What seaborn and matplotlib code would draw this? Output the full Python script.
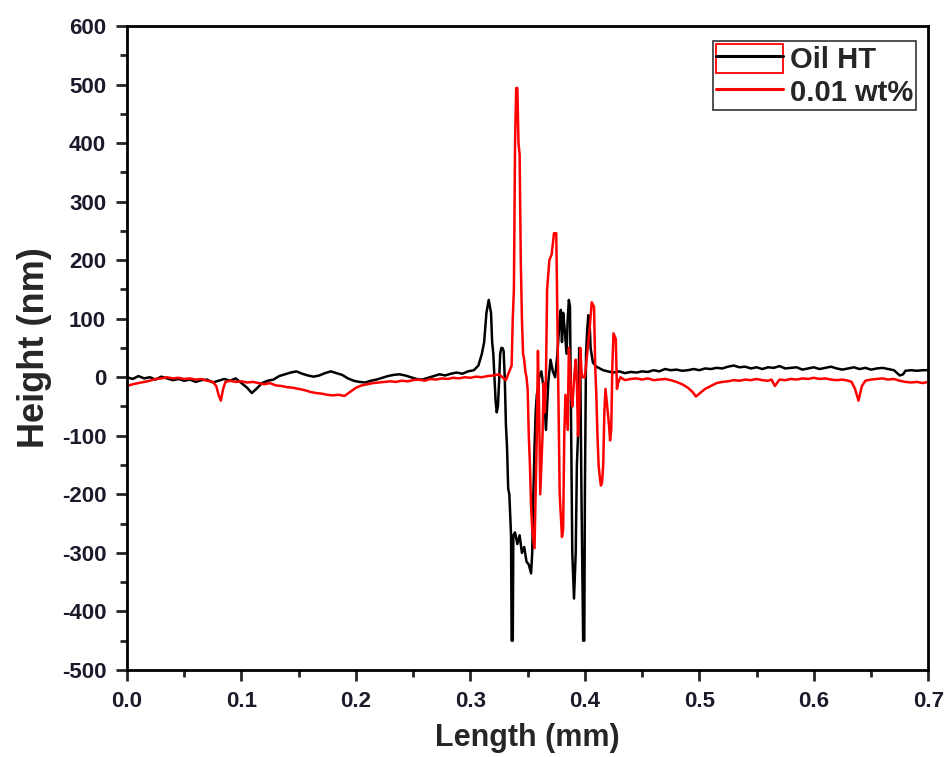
import matplotlib
matplotlib.use("Agg")
import matplotlib.pyplot as plt
import seaborn as sns
import pandas as pd
from matplotlib.ticker import MultipleLocator
from matplotlib.patches import Rectangle
from matplotlib.legend_handler import HandlerTuple

# ---- data ----
oil_x = [0.000, 0.005, 0.010, 0.015, 0.020, 0.025, 0.030, 0.035, 0.040, 0.045, 0.050, 0.055, 0.060, 0.065, 0.070,
         0.075, 0.080, 0.085, 0.090, 0.095, 0.100, 0.105, 0.109, 0.113, 0.118, 0.123, 0.128, 0.133, 0.138, 0.143,
         0.148, 0.153, 0.158, 0.163, 0.168, 0.173, 0.178, 0.183, 0.188, 0.193, 0.198, 0.203, 0.208, 0.213, 0.218,
         0.223, 0.228, 0.233, 0.238, 0.243, 0.248, 0.253, 0.258, 0.263, 0.268, 0.273, 0.278, 0.283, 0.288, 0.293,
         0.298, 0.303, 0.307, 0.310, 0.312, 0.314, 0.316, 0.318, 0.319, 0.320, 0.321, 0.322, 0.323, 0.324, 0.325,
         0.326, 0.327, 0.328, 0.329, 0.330, 0.331, 0.332, 0.333, 0.334, 0.3355, 0.336, 0.337, 0.3375, 0.339, 0.341,
         0.343, 0.345, 0.347, 0.349, 0.351, 0.353, 0.354, 0.355, 0.356, 0.357, 0.358, 0.359, 0.360, 0.362, 0.364,
         0.366, 0.368, 0.370, 0.372, 0.374, 0.376, 0.378, 0.379, 0.380, 0.381, 0.382, 0.384, 0.385, 0.386, 0.387,
         0.388, 0.389, 0.3905, 0.392, 0.393, 0.394, 0.395, 0.396, 0.397, 0.3985, 0.3995, 0.400, 0.401, 0.402, 0.403,
         0.404, 0.405, 0.407, 0.410, 0.413, 0.416, 0.420, 0.425, 0.430, 0.435, 0.440, 0.445, 0.450, 0.455, 0.460,
         0.465, 0.470, 0.475, 0.480, 0.485, 0.490, 0.495, 0.500, 0.505, 0.510, 0.515, 0.520, 0.525, 0.530, 0.535,
         0.540, 0.545, 0.550, 0.555, 0.560, 0.565, 0.570, 0.575, 0.580, 0.585, 0.590, 0.595, 0.600, 0.605, 0.610,
         0.615, 0.620, 0.625, 0.630, 0.635, 0.640, 0.645, 0.650, 0.655, 0.660, 0.665, 0.670, 0.675, 0.678, 0.680,
         0.685, 0.690, 0.695, 0.700]
oil_y = [0, -3, 2, -2, 0, -4, 1, -2, -5, -3, -6, -4, -8, -5, -4,
         -9, -6, -3, -6, -2, -10, -18, -27, -20, -10, -6, -4, 2, 5, 8,
         10, 6, 3, 1, 3, 7, 10, 7, 4, -2, -6, -8, -9, -6, -4,
         -1, 2, 4, 5, 3, 0, -3, -4, -1, 2, 5, 3, 6, 8, 6,
         10, 12, 20, 40, 60, 110, 132, 110, 60, 40, 0, -40, -60, -50, -10,
         40, 50, 50, 45, 0, -80, -120, -190, -200, -270, -450, -450, -270, -265, -285,
         -270, -300, -290, -315, -320, -335, -300, -200, -120, -60, -30, -20, 0, 10, -20,
         -90, -10, 30, 10, 0, 40, 100, 115, 60, 110, 90, 40, 100, 132, 120,
         -100, -300, -378, -300, -150, -100, 50, 20, -200, -450, -450, -200, 40, 80, 106,
         100, 50, 25, 18, 15, 12, 10, 8, 10, 7, 9, 8, 10, 9, 12,
         10, 14, 12, 13, 11, 12, 14, 12, 15, 14, 16, 15, 18, 20, 17,
         18, 15, 17, 14, 17, 16, 19, 15, 16, 17, 13, 15, 17, 14, 16,
         18, 15, 13, 15, 17, 14, 16, 13, 15, 16, 14, 12, 3, 5, 11,
         12, 11, 12, 12]

wt_x = [0.000, 0.005, 0.010, 0.015, 0.020, 0.025, 0.030, 0.035, 0.040, 0.045, 0.050, 0.055, 0.060, 0.065, 0.070,
        0.075, 0.078, 0.080, 0.082, 0.084, 0.086, 0.090, 0.095, 0.100, 0.105, 0.110, 0.115, 0.120, 0.125, 0.130,
        0.135, 0.140, 0.145, 0.150, 0.155, 0.160, 0.165, 0.170, 0.175, 0.180, 0.185, 0.190, 0.195, 0.200, 0.205,
        0.210, 0.215, 0.220, 0.225, 0.230, 0.235, 0.240, 0.245, 0.250, 0.255, 0.260, 0.265, 0.270, 0.275, 0.280,
        0.285, 0.290, 0.295, 0.300, 0.305, 0.310, 0.315, 0.320, 0.325, 0.328, 0.331, 0.334, 0.336, 0.337, 0.338,
        0.339, 0.340, 0.341, 0.342, 0.343, 0.344, 0.345, 0.346, 0.347, 0.348, 0.349, 0.350, 0.351, 0.352, 0.353,
        0.354, 0.356, 0.357, 0.358, 0.359, 0.360, 0.361, 0.362, 0.363, 0.364, 0.365, 0.366, 0.367, 0.369, 0.371,
        0.373, 0.375, 0.376, 0.377, 0.378, 0.380, 0.381, 0.382, 0.383, 0.384, 0.385, 0.386, 0.387, 0.388, 0.389,
        0.390, 0.391, 0.392, 0.393, 0.394, 0.395, 0.396, 0.397, 0.398, 0.400, 0.402, 0.404, 0.406, 0.408, 0.409,
        0.410, 0.411, 0.412, 0.413, 0.414, 0.415, 0.416, 0.417, 0.418, 0.419, 0.420, 0.421, 0.422, 0.423, 0.424,
        0.425, 0.426, 0.427, 0.428, 0.429, 0.431, 0.435, 0.440, 0.445, 0.450, 0.455, 0.460, 0.465, 0.470, 0.475,
        0.480, 0.485, 0.490, 0.494, 0.497, 0.500, 0.505, 0.510, 0.515, 0.520, 0.525, 0.530, 0.535, 0.540, 0.545,
        0.550, 0.555, 0.560, 0.563, 0.566, 0.570, 0.575, 0.580, 0.585, 0.590, 0.595, 0.600, 0.605, 0.610, 0.615,
        0.620, 0.625, 0.630, 0.633, 0.636, 0.639, 0.642, 0.645, 0.650, 0.655, 0.660, 0.665, 0.670, 0.675, 0.680,
        0.685, 0.690, 0.695, 0.700]
wt_y = [-15, -12, -10, -8, -6, -3, -2, 0, -2, -1, -3, -2, -4, -3, -6,
        -8, -15, -30, -40, -20, -8, -6, -8, -7, -9, -8, -10, -12, -10, -14,
        -15, -17, -18, -20, -22, -25, -27, -28, -30, -31, -30, -32, -25, -18, -14,
        -12, -10, -9, -8, -7, -8, -6, -7, -5, -4, -6, -3, -4, -2, -3,
        -1, -2, 0, -1, 1, 0, 2, 3, 5, 0, -5, 10, 20, 100, 150,
        400, 494, 494, 400, 380, 200, 100, 40, 30, 10, 0, -20, -100, -150, -220,
        -260, -292, -200, -100, 45, -50, -200, -150, -100, -10, -60, 0, 150, 200, 210,
        246, 246, 100, -50, -200, -273, -260, -100, -30, -60, -90, 50, 20, -30, -50,
        -20, 10, 30, -10, -100, -60, 50, 10, 0, 0, 40, 80, 128, 120, 20,
        -30, -100, -150, -170, -185, -180, -150, -60, -20, -40, -60, -80, -108, -90, 20,
        75, 70, 65, -20, -10, 0, -5, -3, -2, -4, -2, -5, -4, -3, -5,
        -8, -12, -18, -25, -33, -28, -20, -15, -10, -8, -7, -5, -6, -4, -5,
        -3, -5, -6, -4, -15, -4, -5, -3, -4, -2, -3, -1, -3, -2, -4,
        -5, -4, -6, -8, -20, -40, -15, -6, -4, -3, -2, -4, -3, -6, -8,
        -9, -8, -10, -8]

series_names = ["Oil HT", "0.01 wt%"]
series_colors = ["#000000", "#ff0000"]

xticks = [0.0, 0.1, 0.2, 0.3, 0.4, 0.5, 0.6, 0.7]
yticks = [-500, -400, -300, -200, -100, 0, 100, 200, 300, 400, 500, 600]

df = pd.concat([
    pd.DataFrame({"Length": oil_x, "Height": oil_y, "Sample": series_names[0]}),
    pd.DataFrame({"Length": wt_x, "Height": wt_y, "Sample": series_names[1]}),
], ignore_index=True)

sns.set_style("ticks")
plt.rcParams["font.family"] = ["Liberation Sans", "DejaVu Sans"]
plt.rcParams["font.weight"] = "bold"

fig = plt.figure(figsize=(9.49, 7.57), dpi=100)
ax = fig.add_axes([0.1338, 0.115, 0.8444, 0.8507])

sns.lineplot(data=df, x="Length", y="Height", hue="Sample", hue_order=series_names,
             palette=series_colors, estimator=None, sort=False, linewidth=1.8,
             ax=ax, legend=False)

ax.set_xlim(0, 0.7)
ax.set_ylim(-500, 600)
ax.set_xticks(xticks)
ax.set_xticklabels([f"{v:.1f}" for v in xticks])
ax.set_yticks(yticks)
ax.set_yticklabels([str(v) for v in yticks])
ax.xaxis.set_minor_locator(MultipleLocator(0.05))
ax.yaxis.set_minor_locator(MultipleLocator(50))

for s in ax.spines.values():
    s.set_linewidth(2.0)
    s.set_color("black")
ax.tick_params(axis="both", which="major", direction="out", length=8, width=2,
               labelsize=16, pad=7, top=False, right=False)
ax.tick_params(axis="both", which="minor", direction="out", length=5, width=2,
               top=False, right=False)
for lab in ax.get_xticklabels() + ax.get_yticklabels():
    lab.set_fontweight("bold")
    lab.set_color("#1a1a2a")

ax.set_xlabel("Length (mm)", fontsize=22, fontweight="bold", labelpad=8)
ax.set_ylabel("Height (nm)", fontsize=26, fontweight="bold", labelpad=7)

# legend: black line inside a red frame for "Oil HT", red line for "0.01 wt%"
box = Rectangle((0, 0), 1, 1, facecolor="none", edgecolor="#ff0000", linewidth=1.3)
oil_handle = plt.Line2D([], [], color=series_colors[0], linewidth=2.2)
wt_handle = plt.Line2D([], [], color=series_colors[1], linewidth=2.2)
leg = ax.legend([(box, oil_handle), wt_handle], series_names,
                handler_map={tuple: HandlerTuple(ndivide=1, pad=0)},
                loc="upper right", bbox_to_anchor=(0.985, 0.977), frameon=True,
                fancybox=False, edgecolor="black", handlelength=2.3, handleheight=1.15,
                borderpad=0.1, labelspacing=0.1, handletextpad=0.25, borderaxespad=0.0,
                prop={"size": 21, "weight": "bold"})
leg.get_frame().set_linewidth(1.2)

fig.savefig("out.png", dpi=100, facecolor="white")
